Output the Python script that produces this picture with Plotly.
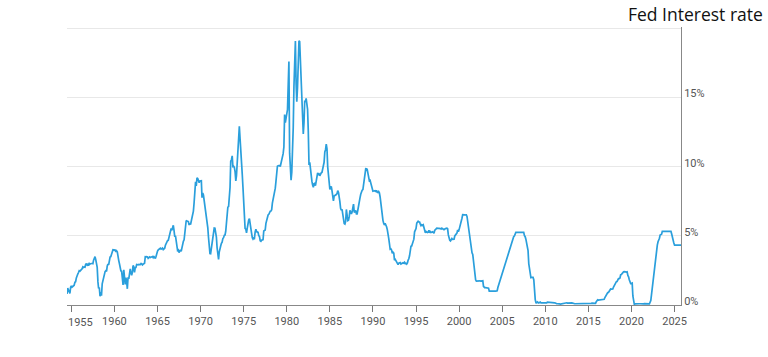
import pandas as pd
import plotly.graph_objects as go

# Monthly effective Fed funds rate (%), starting July 1954
start_month = "1954-07-01"

rates_1950s = [
    0.80, 1.22, 1.07, 0.85, 0.83, 1.28,
    1.39, 1.29, 1.35, 1.43, 1.43, 1.64, 1.68, 1.96, 2.18, 2.24, 2.35, 2.48,
    2.45, 2.50, 2.50, 2.62, 2.75, 2.71, 2.75, 2.73, 2.95, 2.96, 2.88, 2.94,
    2.84, 3.00, 2.96, 3.00, 3.00, 3.00, 2.99, 3.24, 3.47, 3.50, 3.28, 2.98,
    2.72, 1.67, 1.20, 1.26, 0.63, 0.93, 0.68, 1.53, 1.76, 1.80, 2.27, 2.42,
    2.48, 2.43, 2.80, 2.96, 2.90, 3.39, 3.47, 3.50, 3.76, 3.98, 4.00, 3.99,
]
rates_1960s = [
    3.99, 3.97, 3.84, 3.92, 3.85, 3.32, 3.23, 2.98, 2.60, 2.47, 2.44, 1.98,
    1.45, 2.54, 2.02, 1.49, 1.98, 1.73, 1.17, 2.00, 1.88, 2.26, 2.61, 2.33,
    2.15, 2.37, 2.85, 2.78, 2.36, 2.68, 2.71, 2.93, 2.90, 2.90, 2.94, 2.93,
    2.92, 3.00, 2.98, 2.90, 3.00, 2.99, 3.02, 3.49, 3.48, 3.50, 3.48, 3.38,
    3.48, 3.48, 3.43, 3.47, 3.50, 3.50, 3.42, 3.50, 3.45, 3.36, 3.52, 3.85,
    3.90, 3.98, 4.04, 4.09, 4.10, 4.04, 4.09, 4.12, 4.01, 4.08, 4.10, 4.32,
    4.42, 4.60, 4.65, 4.67, 4.90, 5.17, 5.30, 5.53, 5.40, 5.53, 5.76, 5.40,
    4.94, 5.00, 4.53, 4.05, 3.94, 3.98, 3.79, 3.90, 3.99, 3.88, 4.13, 4.51,
    4.61, 4.71, 5.05, 5.76, 6.11, 6.07, 6.02, 6.03, 5.78, 5.91, 5.82, 6.02,
    6.30, 6.61, 6.79, 7.41, 8.67, 8.90, 8.61, 9.19, 9.15, 9.00, 8.85, 8.97,
]
rates_1970s = [
    8.98, 8.98, 7.76, 8.10, 7.95, 7.61, 7.21, 6.61, 6.29, 6.20, 5.60, 4.90,
    4.14, 3.72, 3.71, 4.15, 4.63, 4.91, 5.31, 5.56, 5.55, 5.20, 4.91, 4.14,
    3.50, 3.29, 3.83, 4.17, 4.27, 4.46, 4.55, 4.80, 4.87, 5.04, 5.06, 5.33,
    5.94, 6.58, 7.09, 7.12, 7.84, 8.49, 10.40, 10.50, 10.78, 10.01, 10.03, 9.95,
    9.65, 8.97, 9.35, 10.51, 11.31, 11.93, 12.92, 12.01, 11.34, 10.06, 9.45, 8.53,
    7.13, 6.24, 5.54, 5.49, 5.22, 5.55, 6.10, 6.14, 6.24, 5.82, 5.22, 5.20,
    4.87, 4.77, 4.84, 4.82, 5.29, 5.48, 5.31, 5.29, 5.25, 5.02, 4.95, 4.65,
    4.61, 4.68, 4.69, 4.73, 5.35, 5.39, 5.42, 5.90, 6.14, 6.47, 6.51, 6.56,
    6.70, 6.78, 6.79, 6.89, 7.36, 7.60, 7.81, 8.04, 8.45, 8.96, 9.76, 10.03,
    10.07, 10.06, 10.09, 10.01, 10.24, 10.29, 10.47, 10.94, 11.43, 13.77, 13.18, 13.78,
]
rates_1980s = [
    13.82, 14.13, 17.19, 17.61, 10.98, 9.47, 9.03, 9.61, 10.87, 12.81, 15.85, 18.90,
    19.08, 15.93, 14.70, 15.72, 18.52, 19.10, 19.04, 17.82, 15.87, 15.08, 13.31, 12.37,
    13.22, 14.78, 14.68, 14.94, 14.45, 14.15, 12.59, 10.12, 10.31, 9.71, 9.20, 8.95,
    8.68, 8.51, 8.77, 8.80, 8.63, 8.98, 9.37, 9.56, 9.45, 9.48, 9.34, 9.47,
    9.56, 9.59, 9.91, 10.29, 10.32, 11.06, 11.23, 11.64, 11.30, 9.99, 9.43, 8.38,
    8.35, 8.50, 8.58, 8.27, 7.97, 7.53, 7.88, 7.90, 7.92, 7.99, 8.05, 8.27,
    8.14, 7.86, 7.48, 6.99, 6.85, 6.92, 6.56, 6.17, 5.89, 5.85, 6.04, 6.91,
    6.43, 6.10, 6.13, 6.37, 6.85, 6.73, 6.58, 6.73, 7.22, 7.29, 6.69, 6.77,
    6.83, 6.58, 6.58, 6.87, 7.09, 7.51, 7.75, 8.01, 8.19, 8.30, 8.35, 8.76,
    9.12, 9.36, 9.85, 9.84, 9.81, 9.53, 9.24, 8.99, 9.02, 8.84, 8.55, 8.45,
]
rates_1990s = [
    8.23, 8.24, 8.28, 8.26, 8.18, 8.29, 8.15, 8.13, 8.20, 8.11, 7.81, 7.31,
    6.91, 6.25, 6.12, 5.91, 5.78, 5.90, 5.82, 5.66, 5.45, 5.21, 4.81, 4.43,
    4.03, 4.06, 3.98, 3.73, 3.82, 3.76, 3.25, 3.30, 3.22, 3.10, 3.09, 2.92,
    3.02, 3.03, 3.07, 2.96, 3.00, 3.04, 3.06, 3.03, 3.09, 2.99, 3.02, 2.96,
    3.05, 3.25, 3.34, 3.56, 4.01, 4.25, 4.26, 4.47, 4.73, 4.76, 5.29, 5.45,
    5.53, 5.92, 5.98, 6.05, 6.01, 6.00, 5.85, 5.74, 5.80, 5.76, 5.80, 5.60,
    5.56, 5.22, 5.31, 5.22, 5.24, 5.27, 5.40, 5.22, 5.30, 5.24, 5.31, 5.29,
    5.25, 5.19, 5.39, 5.51, 5.50, 5.56, 5.52, 5.54, 5.54, 5.50, 5.52, 5.50,
    5.56, 5.51, 5.49, 5.45, 5.49, 5.56, 5.54, 5.55, 5.51, 5.07, 4.83, 4.68,
    4.63, 4.76, 4.81, 4.74, 4.74, 4.76, 4.99, 5.07, 5.22, 5.20, 5.42, 5.30,
]
rates_2000s = [
    5.45, 5.73, 5.85, 6.02, 6.27, 6.53, 6.54, 6.50, 6.52, 6.51, 6.51, 6.40,
    5.98, 5.49, 5.31, 4.80, 4.21, 3.97, 3.77, 3.65, 3.07, 2.49, 2.09, 1.82,
    1.73, 1.74, 1.73, 1.75, 1.75, 1.75, 1.73, 1.74, 1.75, 1.75, 1.34, 1.24,
    1.24, 1.26, 1.25, 1.26, 1.26, 1.22, 1.01, 1.03, 1.01, 1.01, 1.00, 0.98,
    1.00, 1.01, 1.00, 1.00, 1.00, 1.03, 1.26, 1.43, 1.61, 1.76, 1.93, 2.16,
    2.28, 2.50, 2.63, 2.79, 3.00, 3.04, 3.26, 3.50, 3.62, 3.78, 4.00, 4.16,
    4.29, 4.49, 4.59, 4.79, 4.94, 4.99, 5.24, 5.25, 5.25, 5.25, 5.25, 5.24,
    5.25, 5.26, 5.26, 5.25, 5.25, 5.25, 5.26, 5.02, 4.94, 4.76, 4.49, 4.24,
    3.94, 2.98, 2.61, 2.28, 1.98, 2.00, 2.01, 2.00, 1.81, 0.97, 0.39, 0.16,
    0.15, 0.22, 0.18, 0.15, 0.18, 0.21, 0.16, 0.16, 0.15, 0.12, 0.12, 0.12,
]
rates_2010s = [
    0.11, 0.13, 0.16, 0.20, 0.20, 0.18, 0.18, 0.19, 0.19, 0.19, 0.19, 0.18,
    0.17, 0.16, 0.14, 0.10, 0.09, 0.09, 0.07, 0.10, 0.08, 0.07, 0.08, 0.07,
    0.08, 0.10, 0.13, 0.14, 0.16, 0.16, 0.16, 0.13, 0.14, 0.16, 0.16, 0.16,
    0.14, 0.15, 0.14, 0.15, 0.11, 0.09, 0.09, 0.08, 0.08, 0.09, 0.08, 0.09,
    0.07, 0.07, 0.08, 0.09, 0.09, 0.10, 0.09, 0.09, 0.09, 0.09, 0.09, 0.12,
    0.11, 0.11, 0.11, 0.12, 0.12, 0.13, 0.13, 0.14, 0.14, 0.12, 0.12, 0.24,
    0.34, 0.38, 0.36, 0.37, 0.37, 0.38, 0.39, 0.40, 0.40, 0.40, 0.41, 0.54,
    0.65, 0.66, 0.79, 0.90, 0.91, 1.04, 1.15, 1.16, 1.15, 1.15, 1.16, 1.30,
    1.41, 1.42, 1.51, 1.69, 1.70, 1.82, 1.91, 1.91, 1.95, 2.19, 2.20, 2.27,
    2.40, 2.40, 2.41, 2.42, 2.39, 2.38, 2.40, 2.13, 2.04, 1.83, 1.55, 1.55,
]
rates_2020s = [
    1.55, 1.58, 0.65, 0.05, 0.05, 0.08, 0.09, 0.10, 0.09, 0.09, 0.09, 0.09,
    0.09, 0.08, 0.07, 0.07, 0.06, 0.08, 0.10, 0.09, 0.08, 0.08, 0.08, 0.08,
    0.08, 0.08, 0.20, 0.33, 0.77, 1.21, 1.68, 2.33, 2.56, 3.08, 3.78, 4.10,
    4.33, 4.57, 4.65, 4.83, 5.06, 5.08, 5.12, 5.33, 5.33, 5.33, 5.33, 5.33,
    5.33, 5.33, 5.33, 5.33, 5.33, 5.33, 5.33, 5.33, 5.13, 4.83, 4.64, 4.48,
    4.33, 4.33, 4.33, 4.33, 4.33, 4.33, 4.33, 4.33, 4.33, 4.33,
]

y_tick_values = [0, 5, 10, 15, 20]
y_tick_labels = ["0%", "5%", "10%", "15%", ""]
x_tick_years = list(range(1955, 2030, 5))
title_text = "Fed Interest rate"

rates = (rates_1950s + rates_1960s + rates_1970s + rates_1980s
         + rates_1990s + rates_2000s + rates_2010s + rates_2020s)
dates = pd.date_range(start_month, periods=len(rates), freq="MS")

fig = go.Figure()
fig.add_trace(go.Scatter(
    x=dates, y=rates, mode="lines",
    line=dict(color="#2a9fdc", width=1.7),
    hoverinfo="x+y", showlegend=False,
))

tick_font = dict(family="Roboto, sans-serif", size=11, color="#555555")

# first year label is kept inside the plot's left edge (left-aligned), as in the original
x_tick_text = [str(y) for y in x_tick_years]
first_label = x_tick_text[0]
x_tick_text[0] = ""

fig.update_layout(
    width=768, height=357,
    margin=dict(l=67, r=87, t=27, b=52),
    paper_bgcolor="white", plot_bgcolor="white",
    xaxis=dict(
        type="date",
        range=[dates[0], dates[-1]],
        tickvals=[pd.Timestamp(f"{y}-01-01") for y in x_tick_years],
        ticktext=x_tick_text,
        ticks="outside", ticklen=6, tickcolor="#777777", tickwidth=1,
        showline=True, linecolor="#888888", linewidth=1,
        showgrid=False, zeroline=False,
        tickfont=tick_font,
    ),
    yaxis=dict(
        side="right",
        range=[0, 20.1],
        tickvals=y_tick_values, ticktext=y_tick_labels,
        showline=True, linecolor="#888888", linewidth=1,
        showgrid=True, gridcolor="#e8e8e8", gridwidth=1,
        zeroline=False, ticks="", ticklabelstandoff=0,
        ticklabelshift=-4,
        tickfont=tick_font,
    ),
)

fig.add_annotation(
    text=first_label, showarrow=False,
    xref="x", x=dates[0], xanchor="left", xshift=-1,
    yref="paper", y=0, yanchor="middle", yshift=-17,
    font=tick_font,
)

fig.add_annotation(
    text=title_text, showarrow=False,
    xref="paper", x=(765 - 67) / 614, xanchor="right",
    yref="paper", y=(305 - 14) / 278, yanchor="middle",
    font=dict(family="Open Sans, sans-serif", size=17.5, color="#111111"),
)

# remove the browser's default 8px body margin so the figure sits at the page origin
fig.write_html(
    "out.html",
    config={"displayModeBar": False},
    post_script="document.body.style.margin='0';document.body.style.overflow='hidden';",
)
